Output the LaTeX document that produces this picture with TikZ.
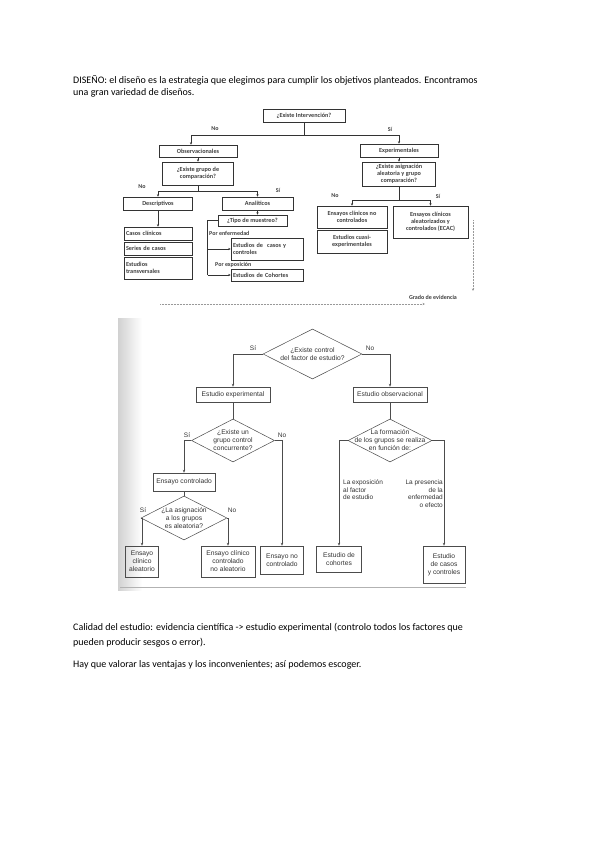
\documentclass[tikz,border=0pt]{standalone}
\usepackage{fontspec}
\setmainfont{Carlito}
\newfontfamily\arialf{Liberation Sans}
\usetikzlibrary{shapes.geometric,arrows.meta,calc}
\begin{document}
\begin{tikzpicture}[x=1pt,y=-1pt,
  body/.style={anchor=west, inner sep=0pt, font=\fontsize{10}{12}\selectfont, text=black},
  tbox/.style={draw=black!80, line width=0.6pt, inner sep=1pt, align=center, font=\bfseries\fontsize{6.2}{7.1}\selectfont, text=black!75},
  lbox/.style={tbox, align=left, inner xsep=2pt, text width=#1},
  wh/.style 2 args={minimum width=#1pt, minimum height=#2pt},
  tlab/.style={inner sep=0pt, font=\bfseries\fontsize{6}{7}\selectfont, text=black!75},
  tline/.style={draw=black!80, line width=0.6pt},
  tarr/.style={tline, -{Stealth[length=2.5pt,width=2.2pt]}},
  darr/.style={draw=black!40, line width=0.5pt, densely dotted, -{Stealth[length=2.5pt,width=2.2pt]}},
  bbox/.style={draw=black!70, line width=0.5pt, inner sep=1pt, align=center, font=\arialf\fontsize{6.7}{8}\selectfont, text=black!80},
  bdia/.style={draw=black!70, line width=0.5pt, diamond, inner sep=0pt},
  btxt/.style={inner sep=0pt, align=center, font=\arialf\fontsize{6.7}{8}\selectfont, text=black!80},
  blab/.style={inner sep=0pt, font=\arialf\fontsize{6.5}{7}\selectfont, text=black!80},
  bline/.style={draw=black!70, line width=0.5pt},
  barr/.style={bline, -{Stealth[length=3pt,width=2.4pt]}}
]
\useasboundingbox (0,0) rectangle (599,848);
\fill[white] (0,0) rectangle (599,848);

% ---- body text ----
\node[body] (t1) at (73,80) {DISEÑO: el diseño es la estrategia que elegimos para cumplir los objetivos planteados. Encontramos};
\node[body] (t2) at (73,93) {una gran variedad de diseños.};
\node[body] (t3) at (73,628) {Calidad del estudio: evidencia científica -> estudio experimental (controlo todos los factores que};
\node[body] (t4) at (73,643) {pueden producir sesgos o error).};
\node[body] (t5) at (73,665) {Hay que valorar las ventajas y los inconvenientes; así podemos escoger.};

% ---- top diagram ----
\node[tbox, wh={82}{13}] (int) at (304,115.5) {¿Existe Intervención?};
\node[tbox, wh={78}{12}] (obs) at (198,151) {Observacionales};
\node[tbox, wh={71}{23}] (grp) at (198,173.5) {¿Existe grupo de\\comparación?};
\node[tbox, wh={78}{13}] (exp) at (399,150.5) {Experimentales};
\node[tbox, wh={73}{24}] (asig) at (399,174) {¿Existe asignación\\aleatoria y grupo\\comparación?};
\node[tbox, wh={69}{13}] (desc) at (158,203.5) {Descriptivos};
\node[tbox, wh={71}{13}] (anal) at (257.5,203.5) {Analíticos};
\node[tbox, wh={69}{11}] (tipo) at (252.5,220.5) {¿Tipo de muestreo?};
\node[lbox=64pt, wh={68}{13}] (cc) at (158,233.5) {Casos clínicos};
\node[lbox=64pt, wh={68}{13}] (sc) at (158,248.5) {Series de casos};
\node[lbox=64pt, wh={68}{22}] (et) at (158,268) {Estudios\\transversales};
\node[lbox=68pt, wh={72}{22}] (ecyc) at (267,249) {Estudios de\ \ casos y\\controles};
\node[lbox=68pt, wh={72}{12}] (coh) at (267,275) {Estudios de Cohortes};
\node[tbox, wh={70}{22}] (ecnc) at (352,217) {Ensayos clínicos no\\controlados};
\node[tbox, wh={70}{23}] (cuasi) at (352,241.5) {Estudios cuasi-\\experimentales};
\node[tbox, wh={75}{32}] (ecac) at (430.5,222) {Ensayos clínicos\\aleatorizados y\\controlados (ECAC)};

\draw[tline] (int.south) -- ++(0,13) coordinate (j1);
\draw[tarr] (j1) -| ([xshift=-7pt]obs.north);
\draw[tarr] (j1) -| (exp.north);
\node[tlab] (lno1) at (215,129) {No};
\node[tlab] (lsi1) at (390,129) {Sí};

\draw[tarr] (obs.south) -- (grp.north);
\draw[tline] (grp.south) -- ++(0,6) coordinate (j2);
\draw[tarr] (j2) -| (desc.north);
\draw[tarr] (j2) -| (anal.north);
\node[tlab] (lno2) at (142,187) {No};
\node[tlab] (lsi2) at (278,190) {Sí};

\draw[tarr] (exp.south) -- (asig.north);
\draw[tline] (asig.south) -- ++(0,14) coordinate (j3);
\draw[tarr] (j3) -| (ecnc.north);
\draw[tarr] (j3) -| (ecac.north);
\node[tlab] (lno3) at (335,196) {No};
\node[tlab] (lsi3) at (438,196) {Sí};

\draw[tarr] (desc.south) -- (cc.north);
\draw[tarr] (anal.south) -- (anal.south |- tipo.north);
\draw[tline] (tipo.west) -- ++(-10,0) coordinate (j4) -- (j4 |- coh.west);
\draw[tarr] (j4 |- ecyc.west) -- (ecyc.west);
\draw[tarr] (j4 |- coh.west) -- (coh.west);
\node[tlab, anchor=west] (lenf) at (209,233) {Por enfermedad};
\node[tlab, anchor=west] (lexpo) at (215,265) {Por exposición};

\coordinate (g1) at (473,220);
\coordinate (g2) at (473,291);
\coordinate (g3) at (160,304);
\coordinate (g4) at (425,304);
\draw[darr] (g1) -- (g2);
\draw[darr] (g3) -- (g4);
\node[tlab] (grado) at (433,297) {Grado de evidencia};

% ---- bottom (scanned) diagram ----
\shade[left color=black!18, right color=white] (118,318) rectangle (142,590);
\draw[black!30, line width=0.4pt] (120,587) -- (466,587);

\node[bdia, minimum width=99pt, minimum height=50pt] (d1) at (312.5,354) {};
\node[btxt] (d1t) at (d1) {¿Existe control\\del factor de estudio?};
\node[bbox, wh={74}{15}] (eexp) at (233,394.5) {Estudio experimental};
\node[bbox, wh={74}{15}] (eobs) at (390,394.5) {Estudio observacional};
\node[bdia, minimum width=83pt, minimum height=43pt] (d2) at (233,440.5) {};
\node[btxt] (d2t) at (d2) {¿Existe un\\grupo control\\concurrente?};
\node[bbox, wh={62}{18}] (ectrl) at (184,482) {Ensayo controlado};
\node[bdia, minimum width=86pt, minimum height=44pt] (d3) at (184,518) {};
\node[btxt] (d3t) at (d3) {¿La asignación\\a los grupos\\es aleatoria?};
\node[bdia, minimum width=84pt, minimum height=43pt] (d4) at (390,440.5) {};
\node[btxt] (d4t) at (d4) {La formación\\de los grupos se realiza\\en función de:};
\node[bbox, wh={33}{31}] (eca) at (142,561.5) {Ensayo\\clínico\\aleatorio};
\node[bbox, wh={54}{31}] (ecna) at (228,561.5) {Ensayo clínico\\controlado\\no aleatorio};
\node[bbox, wh={43}{28}] (enc) at (282,560) {Ensayo no\\controlado};
\node[bbox, wh={45}{26}] (coh2) at (339,559) {Estudio de\\cohortes};
\node[bbox, wh={42}{37}] (cyc) at (444,564.5) {Estudio\\de casos\\y controles};

\draw[barr] (d1.west) -| (eexp.north);
\draw[barr] (d1.east) -| (eobs.north);
\node[blab] (bsi1) at (253,348) {Sí};
\node[blab] (bno1) at (370,348) {No};

\draw[bline] (eexp.south) -- (d2.north);
\draw[barr] (d2.west) -| (ectrl.north);
\draw[barr] (d2.east) -| (enc.north);
\node[blab] (bsi2) at (187,435) {Sí};
\node[blab] (bno2) at (282,435) {No};

\draw[bline] (ectrl.south) -- (d3.north);
\draw[barr] (d3.west) -| (eca.north);
\draw[barr] (d3.east) -| (ecna.north);
\node[blab] (bsi3) at (143,510) {Sí};
\node[blab] (bno3) at (232,510) {No};

\draw[bline] (eobs.south) -- (d4.north);
\draw[barr] (d4.west) -| (coh2.north);
\draw[barr] (d4.east) -| (cyc.north);
\node[blab, anchor=north west, align=left, font=\arialf\fontsize{6.5}{7.5}\selectfont] (lexp) at (343,480) {La exposición\\al factor\\de estudio};
\node[blab, anchor=north east, align=right, font=\arialf\fontsize{6.5}{7.5}\selectfont] (lpres) at (443,480) {La presencia\\de la\\enfermedad\\o efecto};
\end{tikzpicture}
\end{document}
